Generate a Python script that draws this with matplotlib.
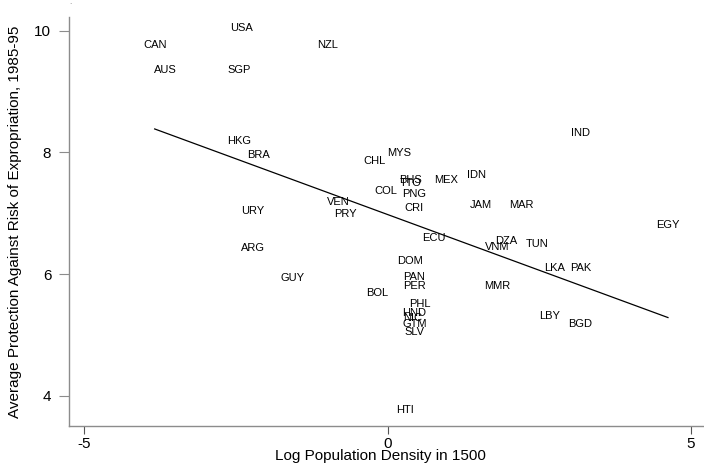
import numpy as np
import matplotlib
matplotlib.use("Agg")
import matplotlib.pyplot as plt

plt.rcParams['font.family'] = ['Liberation Sans', 'DejaVu Sans']

countries = ["USA", "CAN", "NZL", "AUS", "SGP", "HKG", "BRA", "CHL", "MYS", "URY",
             "VEN", "PRY", "COL", "BHS", "TTO", "PNG", "CRI", "MEX", "IDN", "JAM",
             "MAR", "ECU", "DZA", "VNM", "ARG", "DOM", "GUY", "PAN", "PER", "MMR",
             "BOL", "PHL", "TUN", "EGY", "LKA", "PAK", "LBY", "BGD", "HND", "NIC",
             "GTM", "SLV", "IND", "HTI"]
log_density = [-2.41, -3.84, -0.99, -3.66, -2.45, -2.44, -2.13, -0.22, 0.19, -2.22,
               -0.82, -0.69, -0.03, 0.38, 0.38, 0.44, 0.44, 0.96, 1.46, 1.53,
               2.20, 0.77, 1.96, 1.81, -2.22, 0.37, -1.56, 0.44, 0.45, 1.81,
               -0.18, 0.53, 2.46, 4.62, 2.75, 3.18, 2.67, 3.18, 0.44, 0.42,
               0.44, 0.44, 3.18, 0.28]
expropriation = [10.00, 9.73, 9.73, 9.32, 9.32, 8.14, 7.91, 7.82, 7.95, 7.00,
                 7.14, 6.95, 7.32, 7.50, 7.45, 7.27, 7.05, 7.50, 7.59, 7.09,
                 7.09, 6.55, 6.50, 6.41, 6.39, 6.18, 5.89, 5.91, 5.77, 5.77,
                 5.64, 5.47, 6.45, 6.77, 6.05, 6.05, 5.27, 5.14, 5.32, 5.23,
                 5.14, 5.00, 8.27, 3.73]

xticks = [-5, 0, 5]
yticks = [4, 6, 8, 10]

W, H = 704, 467
fig = plt.figure(figsize=(W / 100, H / 100), dpi=100)
ax = fig.add_axes([69 / W, (H - 426) / H, (W - 69) / W, (426 - 17) / H])

x = np.array(log_density)
y = np.array(expropriation)

for name, xi, yi in zip(countries, x, y):
    ax.annotate(name, (xi, yi), xytext=(0, 1.8), textcoords='offset points',
                ha='center', va='center', fontsize=8, color='black')

b, a = np.polyfit(x, y, 1)
xl = np.array([x.min(), x.max()])
ax.plot(xl, a + b * xl, color='black', lw=0.9)

ax.set_xlim(-5.252, 5.214)
ax.set_ylim(3.502, 10.225)
ax.set_xticks(xticks)
ax.set_yticks(yticks)
ax.set_xticklabels([str(v) for v in xticks])
ax.set_yticklabels([str(v) for v in yticks])

for s in ['top', 'right']:
    ax.spines[s].set_visible(False)
for s in ['left', 'bottom']:
    ax.spines[s].set_color('#8c8c8c')
    ax.spines[s].set_linewidth(1.0)

ax.tick_params(axis='y', direction='out', length=7.2, width=0.8, color='#8c8c8c',
               labelsize=11, pad=5.5)
ax.tick_params(axis='x', direction='out', length=5.5, width=0.8, color='#555555',
               labelsize=11, pad=2.5)

ax.set_xlabel("Log Population Density in 1500", fontsize=11)
ax.xaxis.set_label_coords(0.491, -0.0745)
ax.xaxis.label.set_verticalalignment('center')
ax.set_ylabel("Average Protection Against Risk of Expropriation, 1985-95", fontsize=11)
ax.yaxis.set_label_coords(-0.085, 0.5)
ax.yaxis.label.set_verticalalignment('center')

fig.text(70.7 / W, 1 - 3 / H, ".", fontsize=6, color='#777777', ha='center', va='center')

fig.savefig("out.png", dpi=100)
